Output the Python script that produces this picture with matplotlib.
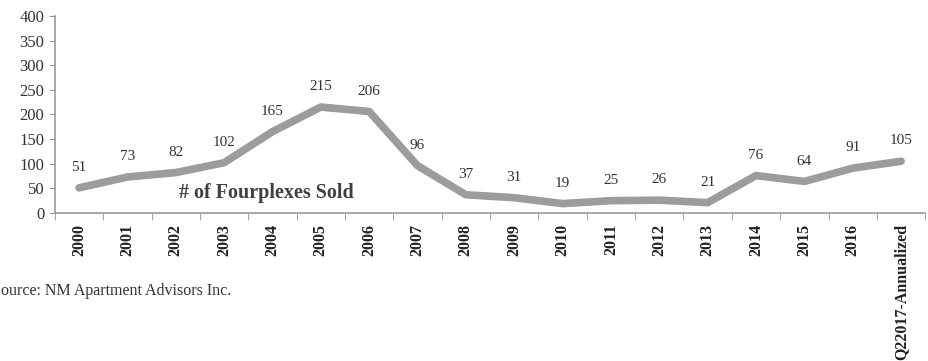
import numpy as np
import matplotlib
matplotlib.use('Agg')
import matplotlib.pyplot as plt

plt.rcParams['font.family'] = ['Liberation Serif', 'DejaVu Serif']

# Data
years = ['2000', '2001', '2002', '2003', '2004', '2005', '2006', '2007', '2008',
         '2009', '2010', '2011', '2012', '2013', '2014', '2015', '2016',
         'Q22017-Annualized']
sold = [51, 73, 82, 102, 165, 215, 206, 96, 37, 31, 19, 25, 26, 21, 76, 64, 91, 105]

fig = plt.figure(figsize=(9.29, 3.61), dpi=100)
ax = fig.add_axes([0.059, 0.41, 0.937, 0.546])

x = np.arange(len(years))
ax.plot(x, sold, color='#9c9c9c', linewidth=5.5, solid_capstyle='round',
        solid_joinstyle='round')

for xi, v in zip(x, sold):
    ax.annotate(str(v), (xi, v), xytext=(0, 10), textcoords='offset points',
                ha='center', va='bottom', fontsize=11, color='#333333')

ax.text(3.87, 40, '# of Fourplexes Sold', fontsize=14.5, fontweight='bold',
        color='#404040', ha='center', va='center')

ax.set_xlim(-0.5, len(years) - 0.5)
ax.set_ylim(0, 400)
ax.set_yticks(range(0, 401, 50))
ax.tick_params(axis='y', labelsize=12, colors='#333333', length=4, color='#999999')
ax.set_xticks(x)
ax.set_xticklabels(years, rotation=90, fontsize=11.5, fontweight='bold', color='#222222')
ax.set_xticks(np.arange(-0.5, len(years), 1), minor=True)
ax.tick_params(axis='x', which='major', length=0, pad=8)
ax.tick_params(axis='x', which='minor', length=5, color='#999999')

for s in ['top', 'right']:
    ax.spines[s].set_visible(False)
for s in ['left', 'bottom']:
    ax.spines[s].set_color('#999999')
    ax.spines[s].set_linewidth(1.2)

fig.text(-0.009, 0.195, 'Source: NM Apartment Advisors Inc.', fontsize=11.5,
         color='#333333', ha='left', va='center')

fig.savefig('out.png', dpi=100)
